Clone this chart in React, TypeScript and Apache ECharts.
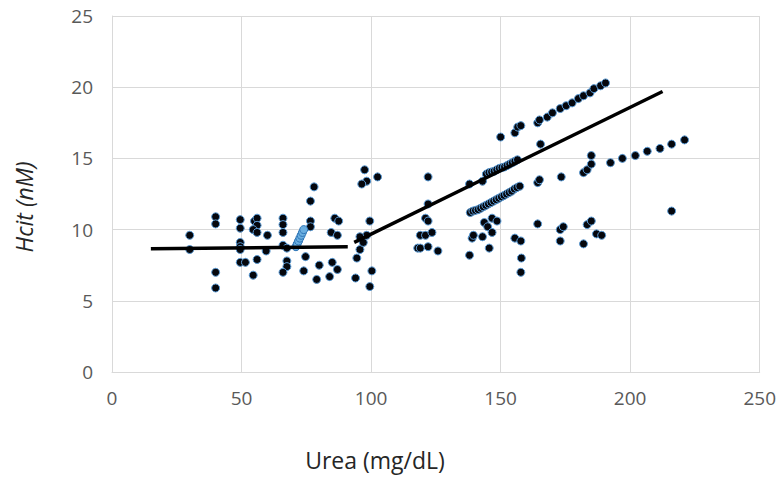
import React, { useEffect, useRef } from "react";
import * as echarts from "echarts";

const xTicks = [0, 50, 100, 150, 200, 250];
const yTicks = [0, 5, 10, 15, 20, 25];
const xTitle = "Urea (mg/dL)";
const yTitle = "Hcit (nM)";

// Scattered measurements (urea, hcit)
const lowGroup: number[][] = [
  [30, 9.6], [30, 8.6],
  [40, 10.9], [40, 10.4], [40, 7.0], [40, 5.9],
  [49.5, 10.7], [49.5, 10.1], [49.5, 9.1], [49.5, 8.8], [49.5, 8.6], [49.5, 7.7], [51.5, 7.7],
  [55, 10.6], [56, 10.8], [56, 10.3], [54.5, 10.0], [56, 9.8], [60, 9.6], [59.5, 8.5], [56, 7.9], [54.5, 6.8],
  [66, 10.8], [66, 10.35], [66, 9.8], [66, 8.9], [67.5, 8.7], [67.5, 7.8], [67.5, 7.4], [66, 7.0],
];
const midGroup: number[][] = [
  [78, 13.0], [76.6, 12.0], [76.6, 10.6], [76.6, 10.2], [74.7, 8.1], [74, 7.1], [80, 7.5], [79, 6.5],
  [84, 6.7], [85, 7.7], [87, 7.2], [86, 10.8], [87.5, 10.6], [84.6, 9.8], [87, 9.6],
  [97.5, 14.2], [102.5, 13.7], [98.3, 13.4], [96.4, 13.2], [99.5, 10.6], [98.3, 9.6], [95.7, 9.5],
  [95.7, 8.6], [94.5, 8.0], [94, 6.6], [100.3, 7.1], [99.5, 6.0], [97, 9.1],
  [122, 13.7], [122, 11.8], [121, 10.8], [122, 10.6], [119, 9.6], [121, 9.6], [123.5, 9.8],
  [118, 8.7], [119, 8.7], [122, 8.8], [125.8, 8.5],
];
const highGroup: number[][] = [
  [138, 13.2], [143, 13.4], [138, 8.2], [139, 9.4], [139.5, 9.6], [143, 9.5], [143.7, 10.5], [145, 10.2],
  [146.7, 10.8], [148.6, 10.6], [146.7, 9.8], [145.6, 8.7], [150, 16.5],
  [164.3, 10.4], [155.5, 9.4], [157.8, 9.2], [158, 8.0], [157.8, 7.0], [173, 10.0], [174.2, 10.2],
  [173, 9.2], [182, 9.0], [183.4, 10.35], [185, 10.6], [187, 9.7], [189, 9.6], [216, 11.3],
];
const upperBand: number[][] = [
  [144.5, 13.9], [145.5, 14.0], [146.5, 14.05], [147.5, 14.1], [148.5, 14.2], [149.5, 14.3], [150.5, 14.35],
  [151.5, 14.4], [152.5, 14.5], [153.5, 14.6], [154.5, 14.7], [155.5, 14.8], [156.5, 14.9],
];
const lowerBand: number[][] = [
  [138.3, 11.2], [139.3, 11.3], [140.3, 11.35], [141.3, 11.4], [142.3, 11.5], [143.3, 11.6], [144.3, 11.7],
  [145.3, 11.8], [146.3, 11.9], [147.3, 12.0], [148.3, 12.1], [149.3, 12.2], [150.3, 12.3], [151.3, 12.4],
  [152.3, 12.5], [153.3, 12.6], [154.3, 12.7], [155.3, 12.85], [156.3, 12.95], [157.4, 13.05],
];
const upperDiagonal: number[][] = [
  [155.5, 16.8], [156.6, 17.2], [157.8, 17.3], [164.3, 17.5], [165, 17.7], [165.4, 16.0], [168, 17.9],
  [170, 18.2], [173, 18.5], [175.3, 18.7], [177.6, 18.9], [180, 19.2], [182, 19.4], [184.5, 19.6],
  [186, 19.9], [188.6, 20.1], [190.5, 20.3],
];
const lowerDiagonal: number[][] = [
  [164.3, 13.3], [165, 13.5], [173.4, 13.7], [182, 14.0], [183.4, 14.2], [185, 14.6], [185, 15.2],
  [192.4, 14.7], [197, 15.0], [202, 15.2], [206.6, 15.5], [211.5, 15.7], [216, 16.0], [221, 16.3],
];
const blueCluster: number[][] = [
  [71, 8.8], [71.5, 9.0], [72, 9.2], [72.5, 9.4], [73, 9.6], [73.5, 9.8], [74, 10.0],
];
// Fitted segments
const fitLow: number[][] = [[15, 8.65], [91, 8.8]];
const fitHigh: number[][] = [[93.5, 9.1], [212.5, 19.7]];

const pointStyle = { color: "#05070d", borderColor: "#5b9bd5", borderWidth: 1, opacity: 1 };

export default function App() {
  const ref = useRef<HTMLDivElement>(null);
  useEffect(() => {
    if (!ref.current) return;
    const chart = echarts.init(ref.current, undefined, { renderer: "svg" });
    const scatter = (data: number[][], style: any = pointStyle) => ({
      type: "scatter",
      data,
      symbolSize: 8,
      itemStyle: style,
      z: 3,
    });
    chart.setOption({
      animation: false,
      backgroundColor: "#ffffff",
      grid: { left: 112, right: 11, top: 16, bottom: 106 },
      xAxis: {
        type: "value",
        min: xTicks[0],
        max: xTicks[xTicks.length - 1],
        interval: 50,
        axisLine: { show: true, lineStyle: { color: "#d9d9d9", width: 1 } },
        axisTick: { show: false },
        splitLine: { show: true, lineStyle: { color: "#d9d9d9", width: 1 } },
        axisLabel: { color: "#595959", fontSize: 19, fontFamily: "Open Sans", margin: 16 },
      },
      yAxis: {
        type: "value",
        min: yTicks[0],
        max: yTicks[yTicks.length - 1],
        interval: 5,
        axisLine: { show: true, lineStyle: { color: "#d9d9d9", width: 1 } },
        axisTick: { show: false },
        splitLine: { show: true, lineStyle: { color: "#d9d9d9", width: 1 } },
        axisLabel: { color: "#595959", fontSize: 19, fontFamily: "Open Sans", margin: 19 },
      },
      graphic: [
        {
          type: "text",
          x: 375,
          y: 460,
          style: {
            text: xTitle,
            fill: "#262626",
            font: "23px 'Open Sans'",
            textAlign: "center",
            textVerticalAlign: "middle",
          },
        },
        {
          type: "text",
          x: 24,
          y: 207,
          rotation: Math.PI / 2,
          style: {
            text: yTitle,
            fill: "#262626",
            font: "italic 23px 'Open Sans'",
            textAlign: "center",
            textVerticalAlign: "middle",
          },
        },
      ],
      series: [
        scatter(lowGroup),
        scatter(midGroup),
        scatter(highGroup),
        scatter(upperBand),
        scatter(lowerBand),
        scatter(upperDiagonal),
        scatter(lowerDiagonal),
        scatter(blueCluster, { color: "#6aaee0", borderColor: "#2e75b6", borderWidth: 1, opacity: 1 }),
        {
          type: "line",
          data: fitLow,
          symbol: "none",
          lineStyle: { color: "#000000", width: 3.5 },
          z: 4,
        },
        {
          type: "line",
          data: fitHigh,
          symbol: "none",
          lineStyle: { color: "#000000", width: 3.5 },
          z: 4,
        },
      ],
    });
    return () => chart.dispose();
  }, []);
  return <div ref={ref} style={{ width: 779, height: 478, position: "fixed", left: 0, top: 0 }} />;
}
